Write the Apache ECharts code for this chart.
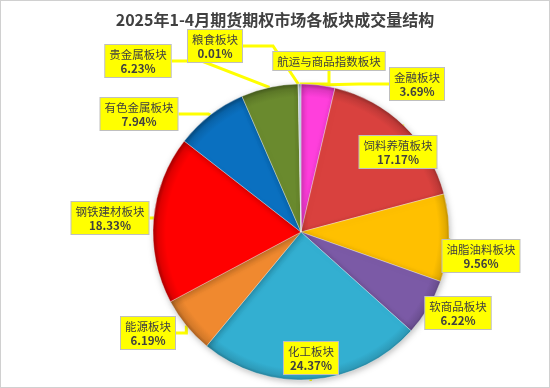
<!DOCTYPE html>
<html><head><meta charset="utf-8">
<script src="https://cdn.jsdelivr.net/npm/echarts@6/dist/echarts.min.js"></script>
<style>
html,body{margin:0;padding:0;background:#fff;}
#c{width:548px;height:386px;border:1px solid #d0d0d0;}
</style></head>
<body><div id="c"></div>
<script>
const titleText = '2025年1-4月期货期权市场各板块成交量结构';
const categories = ['金融板块','饲料养殖板块','油脂油料板块','软商品板块','化工板块','能源板块','钢铁建材板块','有色金属板块','贵金属板块','粮食板块','航运与商品指数板块'];
const values = [3.69,17.17,9.56,6.22,24.37,6.19,18.33,7.94,6.23,0.01,0.29];
const showPct = [true,true,true,true,true,true,true,true,true,true,false];

const colors = ['#ff3fdc','#d9413e','#ffc000','#7b5aa6','#33afd1','#f0892f','#ff0000','#0a70c0','#6a8a2e','#c8d8e8','#b9cde0'];
const CX=300, CY=231, R=148;
// label box centres (layout only)
const labelPos = [[416,83],[397,151],[480,255],[457,312],[310,357],[147,332],[109,217],[138,113],[137,60],[214,45],[328,60]];

function shade(hex, f){
  const n=parseInt(hex.slice(1),16);let r=n>>16,g=(n>>8)&255,b=n&255;
  if(f<0){r=r*(1+f);g=g*(1+f);b=b*(1+f);}else{r=r+(255-r)*f;g=g+(255-g)*f;b=b+(255-b)*f;}
  return 'rgb('+Math.round(r)+','+Math.round(g)+','+Math.round(b)+')';
}

const data = categories.map((n,i)=>({
  name:n, value:values[i],
  itemStyle:{color:{type:'radial',x:CX+1,y:CY+1,r:R,global:true,colorStops:[
    {offset:0,color:colors[i]},{offset:0.92,color:colors[i]},{offset:0.975,color:shade(colors[i],-0.12)},{offset:1,color:shade(colors[i],-0.3)}]}}
}));

const chart = echarts.init(document.getElementById('c'));
chart.setOption({
  animation:false,
  title:{text:titleText,left:'center',top:6,textStyle:{fontFamily:'Noto Sans CJK SC',fontSize:16,fontWeight:'bold',color:'#404040'}},
  series:[{
    type:'pie',
    center:[CX,CY],
    radius:[0,R],
    startAngle:90,
    clockwise:true,
    avoidLabelOverlap:false,
    data:data,
    itemStyle:{borderColor:'rgba(255,255,255,0.35)',borderWidth:1,shadowBlur:6,shadowColor:'rgba(0,0,0,0.25)',shadowOffsetX:1,shadowOffsetY:2},
    label:{
      show:true,
      formatter:p=>showPct[p.dataIndex]?('{n|'+p.name+'}\n{p|'+p.value.toFixed(2)+'%}'):('{n|'+p.name+'}'),
      backgroundColor:'#ffff00',borderColor:'#bfbfbf',borderWidth:1,padding:[2,4,1,4],
      rich:{
        n:{fontFamily:'Noto Sans CJK SC',fontSize:11.5,color:'#404040',lineHeight:15,align:'center'},
        p:{fontFamily:'Noto Sans CJK SC',fontSize:11.5,fontWeight:'bold',color:'#404040',lineHeight:14,align:'center'}
      }
    },
    labelLine:{show:true,lineStyle:{color:'#ffff00',width:3}},
    labelLayout:function(params){
      const pos=labelPos[params.dataIndex];
      return {x:pos[0],y:pos[1],align:'center',verticalAlign:'middle'};
    }
  }]
});
</script></body></html>
